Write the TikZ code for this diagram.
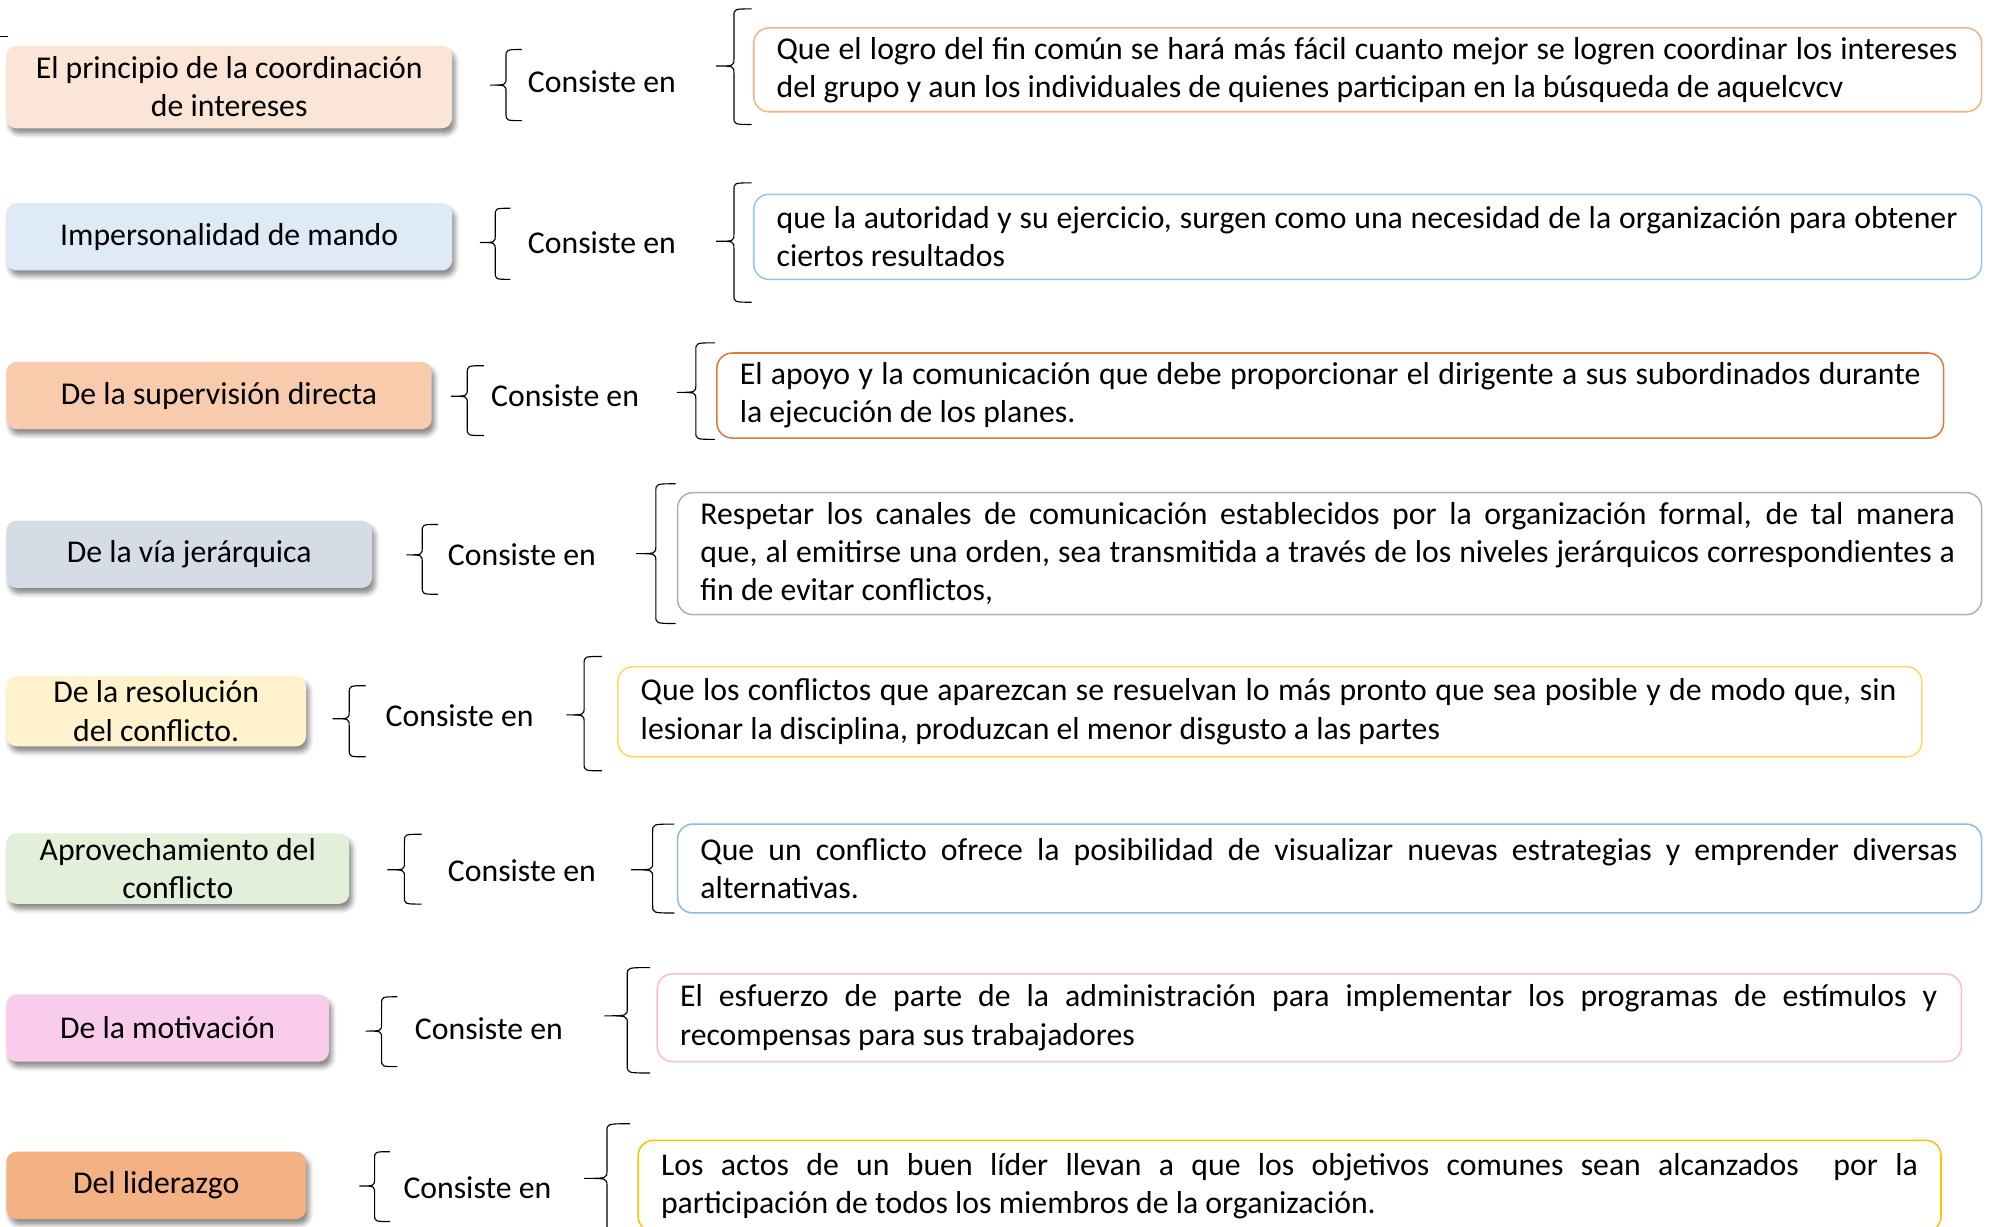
\documentclass[tikz,border=0pt]{standalone}
\usepackage{fontspec}
\setmainfont{Carlito}
\usetikzlibrary{shadows.blur}
\definecolor{fa}{HTML}{FBE5D6}\definecolor{ba}{HTML}{F4B183}
\definecolor{fb}{HTML}{DEEBF7}\definecolor{bb}{HTML}{9DC3E6}
\definecolor{fc}{HTML}{F8CBAD}\definecolor{bc}{HTML}{E0783A}
\definecolor{fd}{HTML}{D6DCE5}\definecolor{bd}{HTML}{AFAFAF}
\definecolor{fe}{HTML}{FFF2CC}\definecolor{be}{HTML}{FFD966}
\definecolor{ff}{HTML}{E2F0D9}\definecolor{bf}{HTML}{8FB8E6}
\definecolor{fg}{HTML}{F9CCEC}\definecolor{bg}{HTML}{F5BCE0}
\definecolor{fh}{HTML}{F4B183}\definecolor{bh}{HTML}{FFC000}
\newcommand{\myfont}{\fontsize{12.5}{15}\selectfont}
\newcommand{\jl}[2]{\makebox[#1][s]{\spaceskip=2.83pt plus 1fil minus 1pt\relax #2}}
\newcommand{\tightl}[1]{{\spaceskip=2.83pt plus 1pt minus 0.5pt\relax #1}}
\newcommand{\cbr}[5]{%
 \draw[bracel] (#5,#3) .. controls ({(#1+#5)/2},#3) .. ({(#1+#5)/2},{#3+6})
  -- ({(#1+#5)/2},{#2-6}) .. controls ({(#1+#5)/2},#2) .. (#1,#2)
  .. controls ({(#1+#5)/2},#2) .. ({(#1+#5)/2},{#2+6})
  -- ({(#1+#5)/2},{#4-6}) .. controls ({(#1+#5)/2},#4) .. (#5,#4);}
\tikzset{
 txt/.style={font=\myfont},
 lbox/.style={txt, rounded corners=4pt, align=center, inner sep=2pt,
   blur shadow={shadow xshift=1.2pt, shadow yshift=-2.2pt, shadow blur radius=1.8pt, shadow opacity=45}},
 rbox/.style={txt, draw, line width=0.6pt, rounded corners=6pt, align=left, inner xsep=9pt, inner ysep=3pt, anchor=west},
 cons/.style={txt, inner sep=1pt},
 bracel/.style={line width=0.45pt, black}
}
\begin{document}
\begin{tikzpicture}[x=0.5pt,y=-0.5pt]
\useasboundingbox (0,0) rectangle (1568,966);
\draw[bracel] (0,29) -- (6,29);
% row 1
\node[lbox, fill=fa, minimum width=175.5pt, minimum height=32.5pt] (l1) at (180.5,68.5) {El principio de la coordinación\\de intereses};
\node[cons] (c1) at (474,64) {Consiste en};
\node[rbox, draw=ba, minimum width=483.5pt, minimum height=33pt, text width=465.5pt] (r1) at (593,55)
 {\jl{465pt}{Que el logro del fin común se hará más fácil cuanto mejor se logren coordinar los intereses}\\\tightl{del grupo y aun los individuales de quienes participan en la búsqueda de aquelcvcv}};
\cbr{386}{67}{39}{95}{411}
\cbr{564}{52}{7}{98}{592}
% row 2
\node[lbox, fill=fb, minimum width=175.5pt, minimum height=26.5pt] (l2) at (180.5,186.5) {Impersonalidad de mando};
\node[cons] (c2) at (474,191) {Consiste en};
\node[rbox, draw=bb, minimum width=483.5pt, minimum height=33.5pt, text width=465.5pt] (r2) at (593,186.5)
 {\jl{465pt}{que la autoridad y su ejercicio, surgen como una necesidad de la organización para obtener}\\\tightl{ciertos resultados}};
\cbr{378}{191}{164}{220}{402}
\cbr{564}{190}{144}{238}{592}
% row 3
\node[lbox, fill=fc, minimum width=167.5pt, minimum height=26.5pt] (l3) at (172.5,311.5) {De la supervisión directa};
\node[cons] (c3) at (445,312) {Consiste en};
\node[rbox, draw=bc, minimum width=483pt, minimum height=33.5pt, text width=465pt] (r3) at (564,311.5)
 {\jl{465pt}{El apoyo y la comunicación que debe proporcionar el dirigente a sus subordinados durante}\\\tightl{la ejecución de los planes.}};
\cbr{355}{312}{288}{343}{381}
\cbr{533}{309}{270}{346}{563}
% row 4
\node[lbox, fill=fd, minimum width=144pt, minimum height=26.5pt] (l4) at (149,436.5) {De la vía jerárquica};
\node[cons] (c4) at (411,437) {Consiste en};
\node[rbox, draw=bd, minimum width=513.5pt, minimum height=48pt, text width=495.5pt] (r4) at (533,436)
 {\jl{494pt}{Respetar los canales de comunicación establecidos por la organización formal, de tal manera}\\
  \jl{494pt}{que, al emitirse una orden, sea transmitida a través de los niveles jerárquicos correspondientes a}\\\tightl{fin de evitar conflictos,}};
\cbr{320}{437}{413}{468}{345}
\cbr{501}{436}{381}{491}{532}
% row 5
\node[lbox, fill=fe, minimum width=118pt, minimum height=27pt] (l5) at (123,560) {De la resolución\\del conflicto.};
\node[cons] (c5) at (362,564) {Consiste en};
\node[rbox, draw=be, minimum width=513.5pt, minimum height=35.5pt, text width=495.5pt] (r5) at (486,560.5)
 {\jl{494.5pt}{Que los conflictos que aparezcan se resuelvan lo más pronto que sea posible y de modo que, sin}\\\tightl{lesionar la disciplina, produzcan el menor disgusto a las partes}};
\cbr{262}{566}{540}{596}{288}
\cbr{446}{563}{517}{607}{474}
% row 6
\node[lbox, fill=ff, minimum width=135pt, minimum height=27pt] (l6) at (140,684) {Aprovechamiento del\\conflicto};
\node[cons] (c6) at (411,686) {Consiste en};
\node[rbox, draw=bf, minimum width=513.5pt, minimum height=35pt, text width=495.5pt] (r6) at (533,684)
 {\jl{495pt}{Que un conflicto ofrece la posibilidad de visualizar nuevas estrategias y emprender diversas}\\alternativas.};
\cbr{305}{685}{657}{712}{332}
\cbr{497}{685}{649}{719}{531}
% row 7
\node[lbox, fill=fg, minimum width=127pt, minimum height=26.5pt] (l7) at (132,809.5) {De la motivación};
\node[cons] (c7) at (385,810) {Consiste en};
\node[rbox, draw=bg, minimum width=513.5pt, minimum height=34.5pt, text width=495.5pt] (r7) at (517,801.5)
 {\jl{495pt}{El esfuerzo de parte de la administración para implementar los programas de estímulos y}\\\tightl{recompensas para sus trabajadores}};
\cbr{288}{812}{785}{840}{313}
\cbr{476}{800}{762}{845}{512}
% row 8
\node[lbox, fill=fh, minimum width=118pt, minimum height=26.5pt] (l8) at (123,933.5) {Del liderazgo};
\node[cons] (c8) at (376,935) {Consiste en};
\node[rbox, draw=bh, minimum width=513pt, minimum height=36pt, text width=495pt] (r8) at (502,934)
 {\jl{495pt}{Los actos de un buen líder llevan a que los objetivos comunes sean alcanzados \ por la}\\\tightl{participación de todos los miembros de la organización.}};
\cbr{283}{934}{907}{962}{307}
\cbr{460}{928}{885}{975}{496}
\end{tikzpicture}
\end{document}
